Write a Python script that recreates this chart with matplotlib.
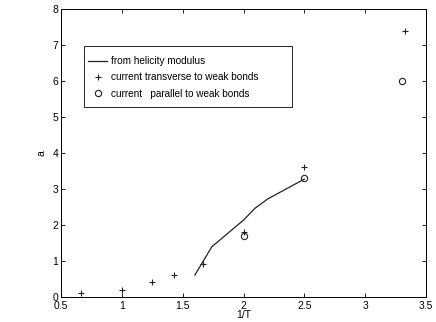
import matplotlib
matplotlib.use("Agg")
import matplotlib.pyplot as plt
from matplotlib.patches import Rectangle

plt.rcParams['font.family'] = ['Liberation Sans', 'DejaVu Sans']

# helicity modulus curve
line_x = [1.60, 1.74, 2.0, 2.095, 2.2, 2.5]
line_y = [0.60, 1.39, 2.13, 2.46, 2.72, 3.27]

# current transverse to weak bonds
trans_x = [0.667, 1.0, 1.25, 1.43, 1.667, 2.0, 2.5, 3.33]
trans_y = [0.1, 0.2, 0.4, 0.6, 0.9, 1.8, 3.6, 7.4]

# current parallel to weak bonds
par_x = [2.0, 2.5, 3.3]
par_y = [1.7, 3.3, 6.0]

xticks = [0.5, 1, 1.5, 2, 2.5, 3, 3.5]
xticklabels = ['0.5', '1', '1.5', '2', '2.5', '3', '3.5']
yticks = [0, 1, 2, 3, 4, 5, 6, 7, 8]

fig = plt.figure(figsize=(4.36, 3.22), dpi=100)
ax = fig.add_axes([61/436, 1 - 296.7/322, 365/436, 287.7/322])

ax.plot(line_x, line_y, '-', color='#222222', lw=0.9, label='from helicity modulus')
ax.plot(trans_x, trans_y, '+', color='#222222', ms=5, mew=0.8, ls='none',
        label='current transverse to weak bonds')
ax.plot(par_x, par_y, 'o', mfc='none', mec='#222222', ms=4.5, mew=0.8, ls='none',
        label='current   parallel to weak bonds')

ax.set_xlim(0.5, 3.5)
ax.set_ylim(0, 8)
ax.set_xticks(xticks)
ax.set_xticklabels(xticklabels)
ax.set_yticks(yticks)
ax.tick_params(direction='in', length=3, width=0.6, top=True, right=True,
               labelsize=7.5)
ax.tick_params(axis='x', pad=3.2)
ax.tick_params(axis='y', pad=2)
for s in ax.spines.values():
    s.set_linewidth(0.7)

ax.set_xlabel('1/T', fontsize=7.5, labelpad=-1)
ax.set_ylabel('a', fontsize=7.5, labelpad=4)

leg = ax.legend(loc='upper left', bbox_to_anchor=(0.074, 0.836), fontsize=7.2,
                frameon=False, borderaxespad=0, borderpad=0,
                handlelength=1.9, labelspacing=0.62, handletextpad=0.35)

frame = Rectangle((0.063, 0.659), 0.570, 0.212, transform=ax.transAxes,
                  fill=False, edgecolor='#222222', lw=0.7, zorder=4)
ax.add_patch(frame)

fig.savefig('out.png', dpi=100)
